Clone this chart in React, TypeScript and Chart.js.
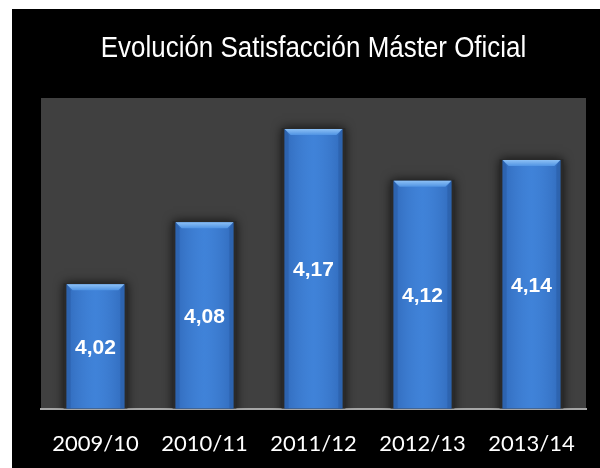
import React, { useEffect, useRef } from "react";
import { Chart, registerables } from "chart.js";

Chart.register(...registerables);

const title = "Evolución Satisfacción Máster Oficial";
const categories = ["2009/10", "2010/11", "2011/12", "2012/13", "2013/14"];
const values = [4.02, 4.08, 4.17, 4.12, 4.14];
const valueLabels = ["4,02", "4,08", "4,17", "4,12", "4,14"];
const yMin = 3.9;
const yMax = 4.2;

const decorPlugin = {
  id: "decor",
  beforeDraw(chart: any) {
    const { ctx, chartArea, width, height } = chart;
    ctx.save();
    ctx.fillStyle = "#000000";
    ctx.fillRect(0, 0, width, height);
    ctx.fillStyle = "#404040";
    ctx.fillRect(chartArea.left, chartArea.top, chartArea.right - chartArea.left, chartArea.bottom - chartArea.top);
    ctx.fillStyle = "#ffffff";
    ctx.font = "29px 'Liberation Sans', Arial, sans-serif";
    ctx.textAlign = "center";
    ctx.textBaseline = "alphabetic";
    const cx = (chartArea.left + chartArea.right) / 2;
    ctx.translate(cx, 48);
    ctx.scale(0.895, 1);
    ctx.fillText(title, 0, 0);
    ctx.restore();
  },
  beforeDatasetsDraw(chart: any) {
    const { ctx, chartArea } = chart;
    const meta = chart.getDatasetMeta(0);
    ctx.save();
    ctx.beginPath();
    ctx.rect(chartArea.left, chartArea.top, chartArea.right - chartArea.left, chartArea.bottom - chartArea.top);
    ctx.clip();
    meta.data.forEach((bar: any) => {
      const w = bar.width;
      const left = bar.x - w / 2;
      const b = Math.min(bar.base, chartArea.bottom);
      ctx.shadowColor = "rgba(0,0,0,0.75)";
      ctx.shadowBlur = 10;
      ctx.fillStyle = "#2a2a2a";
      ctx.fillRect(left - 3, bar.y - 1, w + 6, b - bar.y + 10);
    });
    ctx.restore();
  },
  afterDatasetsDraw(chart: any) {
    const { ctx, chartArea } = chart;
    const meta = chart.getDatasetMeta(0);
    ctx.save();
    meta.data.forEach((bar: any, i: number) => {
      const w = bar.width;
      const l = bar.x - w / 2;
      const r = bar.x + w / 2;
      const t = bar.y;
      const b = Math.min(bar.base, chartArea.bottom);
      const bev = 6;
      const hg = ctx.createLinearGradient(l, 0, r, 0);
      hg.addColorStop(0, "rgba(30,70,140,0.35)");
      hg.addColorStop(0.5, "rgba(90,150,230,0.15)");
      hg.addColorStop(1, "rgba(30,70,140,0.35)");
      ctx.fillStyle = hg;
      ctx.fillRect(l, t, w, b - t);
      const tg = ctx.createLinearGradient(0, t, 0, t + bev);
      tg.addColorStop(0, "#8cc0f5");
      tg.addColorStop(1, "#4f93e3");
      ctx.fillStyle = tg;
      ctx.beginPath();
      ctx.moveTo(l, t);
      ctx.lineTo(r, t);
      ctx.lineTo(r - bev, t + bev);
      ctx.lineTo(l + bev, t + bev);
      ctx.closePath();
      ctx.fill();
      ctx.fillStyle = "rgba(40,90,160,0.5)";
      ctx.beginPath();
      ctx.moveTo(l, t);
      ctx.lineTo(l + 4, t + bev);
      ctx.lineTo(l + 4, b);
      ctx.lineTo(l, b);
      ctx.closePath();
      ctx.fill();
      ctx.beginPath();
      ctx.moveTo(r, t);
      ctx.lineTo(r - 4, t + bev);
      ctx.lineTo(r - 4, b);
      ctx.lineTo(r, b);
      ctx.closePath();
      ctx.fill();
      ctx.fillStyle = "#ffffff";
      ctx.font = "bold 21px 'Liberation Sans', Arial, sans-serif";
      ctx.textAlign = "center";
      ctx.textBaseline = "middle";
      ctx.fillText(valueLabels[i], bar.x, (t + b) / 2 + 1.5);
    });
    ctx.restore();
  },
};

export default function App() {
  const canvasRef = useRef<HTMLCanvasElement | null>(null);

  useEffect(() => {
    if (!canvasRef.current) return;
    const ctx = canvasRef.current.getContext("2d")!;
    const chart = new Chart(ctx, {
      type: "bar",
      data: {
        labels: categories,
        datasets: [
          {
            data: values,
            backgroundColor: "#3b7fd6",
            borderWidth: 0,
            categoryPercentage: 1,
            barPercentage: 0.53,
          },
        ],
      },
      options: {
        animation: false,
        responsive: false,
        maintainAspectRatio: false,
        layout: { padding: { left: 29, right: 14, top: 89, bottom: 0 } },
        plugins: {
          legend: { display: false },
          title: { display: false },
          tooltip: { enabled: false },
        },
        scales: {
          x: {
            grid: { display: false, drawTicks: false },
            border: { display: true, color: "#a6a6a6", width: 2 },
            ticks: {
              color: "#ffffff",
              padding: 22,
              font: { family: "Lato, 'Open Sans', sans-serif", size: 22 },
              maxRotation: 0,
            },
          },
          y: {
            display: false,
            min: yMin,
            max: yMax,
          },
        },
      },
      plugins: [decorPlugin],
    });
    return () => chart.destroy();
  }, []);

  return (
    <div style={{ position: "fixed", left: 12, top: 9, width: 588, height: 468, background: "#000" }}>
      <canvas ref={canvasRef} width={588} height={470} style={{ display: "block" }} />
    </div>
  );
}
